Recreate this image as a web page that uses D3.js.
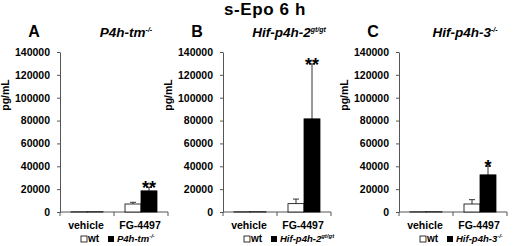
<!DOCTYPE html>
<html>
<head>
<meta charset="utf-8">
<script src="https://cdn.jsdelivr.net/npm/d3@7"></script>
<style>
  body { margin: 0; background: #fff; }
  text { font-family: "Liberation Sans", Arial, sans-serif; font-weight: bold; fill: #000; }
</style>
</head>
<body>
<svg id="chart" width="520" height="246"></svg>
<script>
// data
const categories = ["vehicle", "FG-4497"]
const yTicks = [0, 20000, 40000, 60000, 80000, 100000, 120000, 140000]
const panelLetters = ["A", "B", "C"]
const genotypes = [
  {base: "P4h-tm", sup: "-/-"},
  {base: "Hif-p4h-2", sup: "gt/gt"},
  {base: "Hif-p4h-3", sup: "-/-"}
]
const wtValues = [[150, 7000], [150, 7300], [150, 7000]]
const wtErrors = [[0, 1500], [0, 4000], [0, 3800]]
const koValues = [[150, 18500], [150, 81500], [150, 32500]]
const koErrors = [[0, 3000], [0, 48000], [0, 7500]]
const stars = ["**", "**", "*"]

const svg = d3.select("#chart")

//main title
svg.append("text").attr("x", 265).attr("y", 15).attr("text-anchor", "middle")
  .style("font-size", "17px").style("letter-spacing", "0.6px").text("s-Epo 6 h")

//panel layout
const plotLeft = [60, 223, 399]
const plotW = 108
const plotTop = 52, plotBottom = 212

const y = d3.scaleLinear().domain([0, 140000]).range([plotBottom, plotTop])

panelLetters.forEach((letter, p) => {
  let g = svg.append("g").attr("transform", `translate(${plotLeft[p]},0)`)
  let x = d3.scaleBand().domain(categories).range([0, plotW])
  let bw = 16

  //panel letter + genotype title
  g.append("text").attr("x", -26).attr("y", 37).attr("text-anchor", "middle")
    .style("font-size", "16px").text(letter)
  let t = g.append("text").attr("x", 66).attr("y", 37).attr("text-anchor", "middle")
    .style("font-size", "13.5px").style("font-style", "italic")
  t.append("tspan").text(genotypes[p].base)
  t.append("tspan").attr("dy", -5).style("font-size", "7px").text(genotypes[p].sup)

  //y axis
  let ya = g.append("g").call(d3.axisLeft(y).tickValues(yTicks).tickSize(3).tickSizeOuter(0).tickFormat(d3.format("d")))
  ya.selectAll("text").style("font-size", "10.5px").attr("x", -10)
  ya.selectAll("path, line").attr("stroke", "#555")

  //y label
  g.append("text").attr("transform", `translate(${-51},95) rotate(-90)`)
    .attr("text-anchor", "middle").style("font-size", "10.5px").text("pg/mL")

  //x axis with boundary ticks
  let xa = g.append("g").attr("transform", `translate(0,${plotBottom})`)
  xa.append("line").attr("x1", 0).attr("x2", plotW).attr("stroke", "#555")
  ;[0, plotW / 2, plotW].forEach(v => {
    xa.append("line").attr("x1", v).attr("x2", v).attr("y1", 0).attr("y2", 4).attr("stroke", "#555")
  })
  categories.forEach(c => {
    xa.append("text").attr("x", x(c) + x.bandwidth() / 2 - 1).attr("y", 17)
      .attr("text-anchor", "middle").style("font-size", "10.5px").text(c)
  })

  //bars
  categories.forEach((c, i) => {
    let cx = x(c) + x.bandwidth() / 2
    let series = [
      {v: wtValues[p][i], e: wtErrors[p][i], fill: "#fff", x0: cx - bw},
      {v: koValues[p][i], e: koErrors[p][i], fill: "#000", x0: cx}
    ]
    series.forEach(s => {
      let xm = s.x0 + bw / 2
      if (s.e > 0) {
        g.append("line").attr("x1", xm).attr("x2", xm)
          .attr("y1", y(s.v)).attr("y2", y(s.v + s.e)).attr("stroke", "#333").attr("stroke-width", 1)
        g.append("line").attr("x1", xm - 3).attr("x2", xm + 3)
          .attr("y1", y(s.v + s.e)).attr("y2", y(s.v + s.e)).attr("stroke", "#333").attr("stroke-width", 1)
      }
      g.append("rect").attr("x", s.x0).attr("y", y(s.v)).attr("width", bw)
        .attr("height", y(0) - y(s.v)).attr("fill", s.fill).attr("stroke", "#000").attr("stroke-width", 0.8)
    })
    if (i === 1) {
      let ko = series[1]
      g.append("text").attr("x", ko.x0 + bw / 2).attr("y", y(ko.v + ko.e) + 7)
        .attr("text-anchor", "middle").style("font-size", "18px").text(stars[p])
    }
  })

  //legend
  let lg = g.append("g").attr("transform", `translate(21,242)`)
  lg.append("rect").attr("x", 0).attr("y", -6).attr("width", 6).attr("height", 6)
    .attr("fill", "#fff").attr("stroke", "#000").attr("stroke-width", 0.8)
  lg.append("text").attr("x", 7).attr("y", 0).style("font-size", "10px").text("wt")
  lg.append("rect").attr("x", 27).attr("y", -6).attr("width", 6).attr("height", 6).attr("fill", "#000")
  let lt = lg.append("text").attr("x", 36).attr("y", 0).style("font-size", "9.5px").style("font-style", "italic")
  lt.append("tspan").text(genotypes[p].base)
  lt.append("tspan").attr("dy", -4).style("font-size", "6px").text(genotypes[p].sup)
})
</script>
</body>
</html>
